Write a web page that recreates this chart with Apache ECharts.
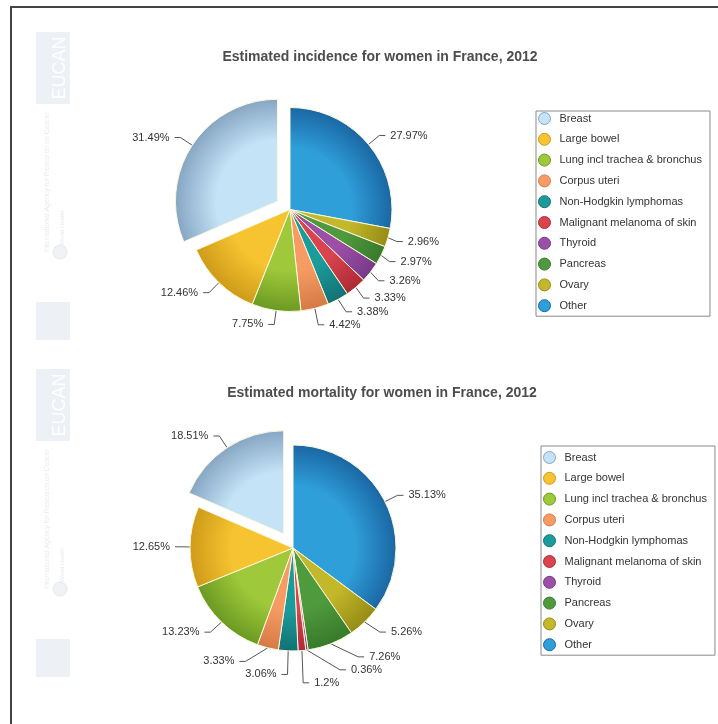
<!DOCTYPE html>
<html>
<head>
<meta charset="utf-8">
<script src="https://cdn.jsdelivr.net/npm/echarts@6/dist/echarts.min.js"></script>
<style>
html,body{margin:0;padding:0;background:#fff;}
#c{width:718px;height:724px;}
</style>
</head>
<body>
<div id="c"></div>
<script>
// ---- data ----
const categories = ['Breast', 'Large bowel', 'Lung incl trachea & bronchus', 'Corpus uteri',
  'Non-Hodgkin lymphomas', 'Malignant melanoma of skin', 'Thyroid', 'Pancreas', 'Ovary', 'Other'];
const incidence = [31.49, 12.46, 7.75, 4.42, 3.38, 3.33, 3.26, 2.97, 2.96, 27.97];
const mortality = [18.51, 12.65, 13.23, 3.33, 3.06, 1.2, 0.36, 7.26, 5.26, 35.13];
const titles = ['Estimated incidence for women in France, 2012', 'Estimated mortality for women in France, 2012'];

// base / rim colours per category
const baseColors = ['#c4e3f6', '#f5c430', '#9fc93a', '#f59b63', '#1c9b9d', '#d9444e', '#9b4fa7', '#4f9a3d', '#c3b82a', '#2f9fda'];
const rimColors  = ['#86a6c4', '#cf9b19', '#6b9a22', '#d57a45', '#127273', '#ad2a36', '#773a88', '#387a2a', '#958c16', '#1a67a3'];

const chart = echarts.init(document.getElementById('c'), null, {renderer: 'canvas'});

function makeData(values, cx, cy, r) {
  const items = categories.map((name, i) => ({
    name: name,
    value: values[i],
    selected: name === 'Breast',
    itemStyle: {
      color: {
        type: 'radial', x: cx, y: cy, r: r, global: true,
        colorStops: [
          {offset: 0, color: baseColors[i]},
          {offset: 0.6, color: baseColors[i]},
          {offset: 1, color: rimColors[i]}
        ]
      }
    }
  }));
  return items.reverse(); // Other first, clockwise from 12 o'clock
}

function pieSeries(values, cx, cy, r, offset) {
  return {
    type: 'pie',
    center: [cx, cy],
    radius: r,
    startAngle: 90,
    clockwise: true,
    selectedMode: 'single',
    selectedOffset: offset,
    avoidLabelOverlap: true,
    itemStyle: {borderColor: '#fbf8dc', borderWidth: 1},
    label: {
      show: true,
      position: 'outside',
      formatter: p => p.value + '%',
      color: '#333',
      fontSize: 11,
      fontFamily: 'Liberation Sans, Arial, sans-serif'
    },
    labelLine: {show: true, length: 14, length2: 6, lineStyle: {color: '#555', width: 1}},
    emphasis: {scale: false},
    animation: false,
    data: makeData(values, cx, cy, r)
  };
}

function legendOpt(left, top, pad) {
  return {
    orient: 'vertical',
    left: left, top: top,
    padding: pad,
    borderColor: '#8a8a8a',
    borderWidth: 1,
    itemWidth: 20, itemHeight: 12,
    itemGap: 7.8,
    selectedMode: false,
    textStyle: {color: '#333', fontSize: 11, fontFamily: 'Liberation Sans, Arial, sans-serif'},
    data: categories.map((name, i) => ({
      name: name,
      icon: 'circle',
      itemStyle: {color: baseColors[i], borderColor: rimColors[i], borderWidth: 1}
    }))
  };
}

function watermark(dy) {
  return {
    type: 'group', x: 0, y: dy, silent: true,
    children: [
      {type: 'rect', shape: {x: 36, y: 32, width: 34, height: 72}, style: {fill: '#edf0f5'}},
      {type: 'text', x: 60, y: 68, rotation: Math.PI / 2,
        style: {text: 'EUCAN', fill: '#ffffff', font: '18px Liberation Sans', align: 'center', verticalAlign: 'middle'}},
      {type: 'text', x: 47, y: 182, rotation: Math.PI / 2,
        style: {text: 'International Agency for Research on Cancer', fill: '#e8ebf1', font: '7px Liberation Sans', align: 'center', verticalAlign: 'middle'}},
      {type: 'circle', shape: {cx: 60, cy: 252, r: 7}, style: {fill: '#f0f2f6', stroke: '#e6e9ef'}},
      {type: 'text', x: 62, y: 228, rotation: Math.PI / 2,
        style: {text: 'World Health', fill: '#e6e9ef', font: '6px Liberation Sans', align: 'center', verticalAlign: 'middle'}},
      {type: 'rect', shape: {x: 36, y: 302, width: 34, height: 38}, style: {fill: '#edf0f5'}}
    ]
  };
}

const option = {
  backgroundColor: '#ffffff',
  animation: false,
  title: [
    {text: titles[0], left: 380, top: 50, textAlign: 'center', padding: 0,
      textStyle: {fontSize: 14, fontWeight: 'bold', color: '#4d4d4d', fontFamily: 'Liberation Sans, Arial, sans-serif'}},
    {text: titles[1], left: 382, top: 386, textAlign: 'center', padding: 0,
      textStyle: {fontSize: 14, fontWeight: 'bold', color: '#4d4d4d', fontFamily: 'Liberation Sans, Arial, sans-serif'}}
  ],
  legend: [
    legendOpt(536, 111, [1, 8, 4, 2]),
    legendOpt(541, 446, [5, 8, 4, 2])
  ],
  graphic: [
    {type: 'rect', silent: true, shape: {x: 11, y: 7, width: 730, height: 740}, style: {fill: 'none', stroke: '#444', lineWidth: 2}},
    watermark(0),
    watermark(337)
  ],
  series: [
    pieSeries(incidence, 290, 209.5, 102, 15),
    pieSeries(mortality, 293, 548, 103, 17)
  ]
};
chart.setOption(option);
</script>
</body>
</html>
